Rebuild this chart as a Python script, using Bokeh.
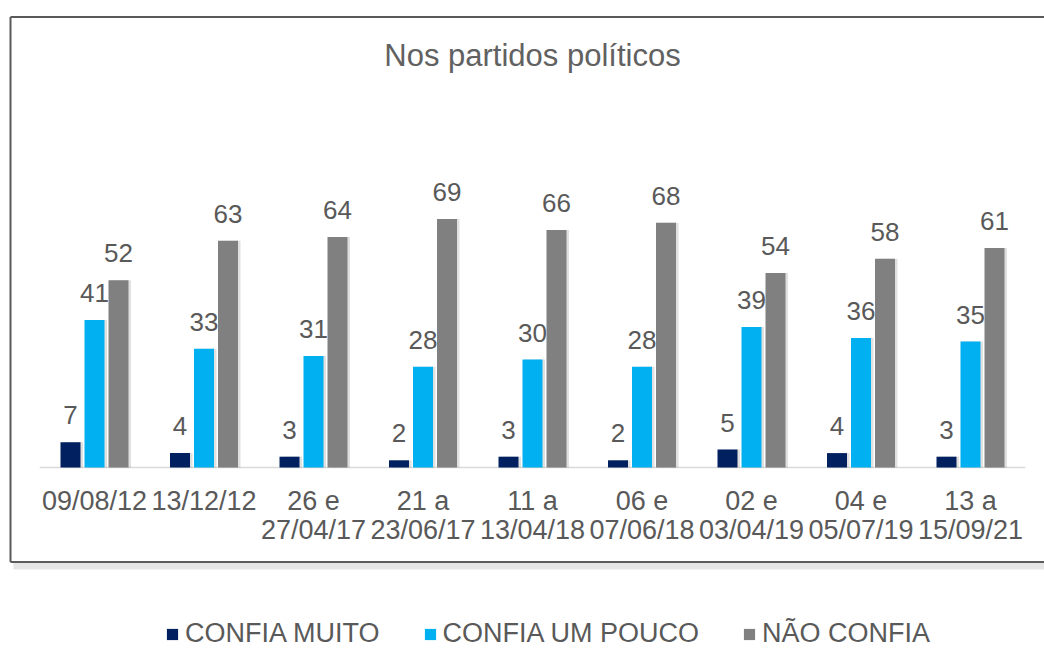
from bokeh.plotting import figure
from bokeh.models import Range1d, ColumnDataSource, Label, Legend, LegendItem, BoxAnnotation
from bokeh.core.properties import value
from bokeh.embed import file_html
from bokeh.resources import INLINE

# ---- data ----
periods = ["09/08/12", "13/12/12", "26 e\n27/04/17", "21 a\n23/06/17", "11 a\n13/04/18",
           "06 e\n07/06/18", "02 e\n03/04/19", "04 e\n05/07/19", "13 a\n15/09/21"]
confia_muito = [7, 4, 3, 2, 3, 2, 5, 4, 3]
confia_um_pouco = [41, 33, 31, 28, 30, 28, 39, 36, 35]
nao_confia = [52, 63, 64, 69, 66, 68, 54, 58, 61]
series_names = ["CONFIA MUITO", "CONFIA UM POUCO", "NÃO CONFIA"]
series_colors = ["#002060", "#00B0F0", "#808080"]
title_text = "Nos partidos políticos"

# ---- layout (pixels) ----
W, H = 1044, 648
PITCH = 109.5          # px between group centres
FIRST_X = 94.0         # px of first group centre from left
BASE_Y = 467.0         # px of zero line from top
PPU = 3.6              # px per percentage unit
BAR_W = 20.0
BAR_STEP = 24.0
FONT = "Liberation Sans"
TXT = "#595959"

def dx(px):
    return px / PITCH

def dy(px):
    return px / PPU

n = len(periods)
x_start = -dx(FIRST_X)
x_end = dx(W - FIRST_X)
y_end = dy(BASE_Y)
y_start = -dy(H - BASE_Y)

def xp(px):   # page x -> data x
    return x_start + dx(px)

def yp(py):   # page y (from top) -> data y
    return y_end - dy(py)

p = figure(width=W, height=H, output_backend="svg", toolbar_location=None,
           x_axis_type=None, y_axis_type=None,
           x_range=Range1d(x_start, x_end), y_range=Range1d(y_start, y_end),
           min_border=0, min_border_left=0, min_border_right=0,
           min_border_top=0, min_border_bottom=0)
p.outline_line_color = None
p.grid.visible = False
p.background_fill_color = "white"
p.border_fill_color = "white"

# chart box (open to the right) + soft shadow under its bottom edge
p.add_layout(BoxAnnotation(left=xp(13), right=x_end + 2, top=yp(562.5), bottom=yp(569),
                           fill_color="#cfcfcf", fill_alpha=0.55, line_color=None,
                           level="underlay"))
p.segment(x0=[xp(10), xp(10), xp(10)], x1=[x_end + 2, xp(10), x_end + 2],
          y0=[yp(16.5), yp(16.5), yp(561.5)], y1=[yp(16.5), yp(561.5), yp(561.5)],
          line_color="#5a5a5a", line_width=2)

# zero line
p.segment(x0=[-0.5], x1=[n - 0.5], y0=[0], y1=[0], line_color="#d9d9d9", line_width=1.5)

idx = list(range(n))
series = [confia_muito, confia_um_pouco, nao_confia]
items = []
for k, (vals, name, col) in enumerate(zip(series, series_names, series_colors)):
    off = dx(BAR_STEP) * (k - 1)
    xs = [i + off for i in idx]
    src = ColumnDataSource(dict(x=xs, top=vals, lab=[str(v) for v in vals]))
    # soft shadow
    p.vbar(x=[x + dx(2.5) for x in xs], top=vals, width=dx(BAR_W), bottom=0,
           fill_color="#000000", fill_alpha=0.12, line_color=None)
    r = p.vbar(x="x", top="top", width=dx(BAR_W), bottom=0, source=src,
               fill_color=col, line_color=None)
    items.append(LegendItem(label=name, renderers=[r]))
    p.text(x="x", y="top", text="lab", source=src, text_align="center",
           text_baseline="alphabetic", y_offset=-27, text_color=TXT,
           text_font=value(FONT), text_font_size="26px")

# category labels
line1 = [s.split("\n")[0] for s in periods]
line2 = [s.split("\n")[1] if "\n" in s else "" for s in periods]
p.text(x=idx, y=[0] * n, text=line1, text_align="center", text_baseline="alphabetic",
       y_offset=33, text_color=TXT, text_font=value(FONT), text_font_size="27px")
p.text(x=idx, y=[0] * n, text=line2, text_align="center", text_baseline="alphabetic",
       y_offset=62, text_color=TXT, text_font=value(FONT), text_font_size="27px")

# title
p.add_layout(Label(x=(n - 1) / 2, y=yp(55), text=title_text, text_align="center",
                   text_baseline="alphabetic", text_color="#616161", text_font=FONT,
                   text_font_size="31px"))

legend = Legend(items=items, orientation="horizontal", location=(165, -1),
                glyph_width=14, glyph_height=14, label_standoff=6, spacing=43,
                padding=0, margin=0, border_line_color=None, background_fill_alpha=0,
                label_text_color=TXT, label_text_font=FONT, label_text_font_size="27px")
p.add_layout(legend, "center")

open("out.html", "w").write(file_html(p, INLINE))
